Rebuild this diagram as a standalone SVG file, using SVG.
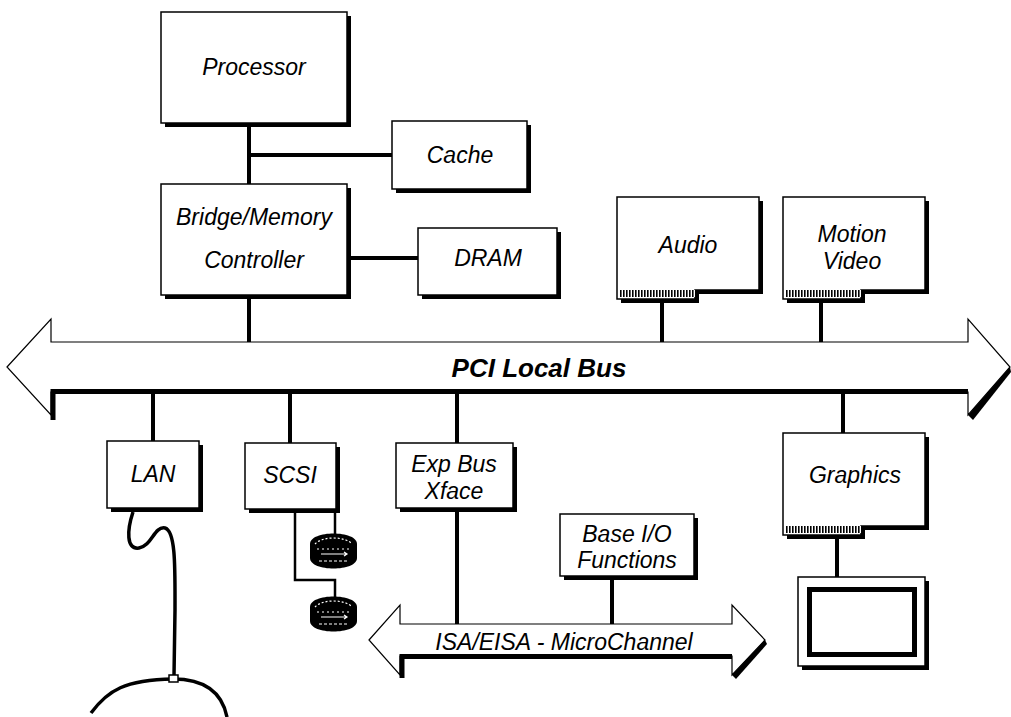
<svg xmlns="http://www.w3.org/2000/svg" width="1011" height="717" viewBox="0 0 1011 717">
<style>
.box{fill:#fff;stroke:#000;stroke-width:1.5}
.sh{fill:#000}
.lbl{font-family:"Liberation Sans",Arial,sans-serif;font-style:italic;font-size:23px;fill:#000;text-anchor:middle}
.big{font-size:26px;font-weight:bold}
.con{stroke:#000;stroke-width:4;fill:none}
.thin{stroke:#000;stroke-width:2.5;fill:none}
.bus{fill:#fff;stroke:#000;stroke-width:1.2}
</style>
<defs>
<pattern id="hatch" width="3" height="8" patternUnits="userSpaceOnUse">
<rect width="3" height="8" fill="#fff"/>
<rect width="1.6" height="8" fill="#000"/>
</pattern>
<g id="card">
<path class="sh" d="M4,4 h142 v93 h-64 v9 h-78 z"/>
<path class="box" d="M0,0 h142 v93 h-64 v9 h-78 z"/>
<rect x="2" y="93" width="76" height="7" fill="url(#hatch)"/>
</g>
<g id="disk">
<path fill="#000" d="M0,11 C0,-3 47,-3 47,11 L47,25 C47,39 0,39 0,25 Z"/>
<path d="M5,11 C12,3 35,3 42,11" stroke="#fff" stroke-width="1.2" stroke-dasharray="2,2" fill="none"/>
<path d="M7,16 H40" stroke="#fff" stroke-width="1" stroke-dasharray="2,3" fill="none"/>
<path d="M11,21 H36 M34,19 L37,21 L34,23" stroke="#fff" stroke-width="1.2" fill="none"/>
<path d="M9,28 H38" stroke="#fff" stroke-width="1" stroke-dasharray="3,2" fill="none"/>
</g>
</defs>
<rect width="1011" height="717" fill="#fff"/>

<g id="connectors">
<line class="con" x1="249" y1="123" x2="249" y2="184"/>
<line class="con" x1="249" y1="155" x2="392" y2="155"/>
<line class="con" x1="347" y1="258" x2="418" y2="258"/>
<line class="con" x1="249" y1="295" x2="249" y2="343"/>
<line class="con" x1="662" y1="300" x2="662" y2="343"/>
<line class="con" x1="821" y1="300" x2="821" y2="343"/>
<line class="con" x1="153" y1="392" x2="153" y2="441"/>
<line class="con" x1="290" y1="392" x2="290" y2="443"/>
<line class="con" x1="457" y1="392" x2="457" y2="443"/>
<line class="con" x1="457" y1="508" x2="457" y2="625"/>
<line class="con" x1="612" y1="576" x2="612" y2="625"/>
<line class="con" x1="843" y1="392" x2="843" y2="433"/>
<line class="con" x1="837" y1="536" x2="837" y2="577"/>
<line class="thin" x1="335" y1="510" x2="335" y2="534"/>
<polyline class="thin" points="295,510 295,580 335,580 335,597"/>
<path d="M133,512 C127,530 126,550 139,548 C152,546 154,526 165,528 C176,531 175,570 175,610 L174,676" stroke="#000" stroke-width="3.5" fill="none"/>
<path d="M91,713 C108,690 125,680 173,679 C205,679 222,692 227,717" stroke="#000" stroke-width="3.5" fill="none"/>
<rect x="169" y="675" width="9" height="7" fill="#fff" stroke="#000" stroke-width="1.5"/>
</g>

<g id="pci-bus">
<polygon class="bus" points="7,367 51,319 51,342 968,342 968,319 1010,367 968,415 968,392 51,392 51,415"/>
<polyline points="53,420 53,391.5 968,391.5" stroke="#000" stroke-width="5" fill="none"/>
<polygon class="sh" points="1010,367 1011,372 973,420 968,415"/>
<text class="lbl big" x="539" y="377">PCI Local Bus</text>
</g>

<g id="isa-bus">
<polygon class="bus" points="369,640 400,605 400,624 732,624 732,605 765,640 732,675 732,656 400,656 400,675"/>
<polyline points="402,678 402,656.5 732,656.5" stroke="#000" stroke-width="5" fill="none"/>
<polygon class="sh" points="765,640 767,644 736,679 732,675"/>
<text class="lbl" x="564" y="650">ISA/EISA - MicroChannel</text>
</g>

<g id="processor">
<rect class="sh" x="165" y="16" width="186" height="111"/>
<rect class="box" x="161" y="12" width="186" height="111"/>
<text class="lbl" x="254" y="75">Processor</text>
</g>

<g id="cache">
<rect class="sh" x="396" y="125" width="135" height="68"/>
<rect class="box" x="392" y="121" width="135" height="68"/>
<text class="lbl" x="460" y="163">Cache</text>
</g>

<g id="bridge">
<rect class="sh" x="165" y="188" width="186" height="111"/>
<rect class="box" x="161" y="184" width="186" height="111"/>
<text class="lbl" x="254" y="225">Bridge/Memory</text>
<text class="lbl" x="254" y="268">Controller</text>
</g>

<g id="dram">
<rect class="sh" x="422" y="232" width="139" height="67"/>
<rect class="box" x="418" y="228" width="139" height="67"/>
<text class="lbl" x="488" y="266">DRAM</text>
</g>

<g id="audio">
<use href="#card" transform="translate(617,197)"/>
<text class="lbl" x="688" y="253">Audio</text>
</g>

<g id="motion-video">
<use href="#card" transform="translate(783,197)"/>
<text class="lbl" x="852" y="242">Motion</text>
<text class="lbl" x="852" y="269">Video</text>
</g>

<g id="lan">
<rect class="sh" x="111" y="445" width="92" height="67"/>
<rect class="box" x="107" y="441" width="92" height="67"/>
<text class="lbl" x="153" y="482">LAN</text>
</g>

<g id="scsi">
<rect class="sh" x="249" y="447" width="91" height="66"/>
<rect class="box" x="245" y="443" width="91" height="66"/>
<text class="lbl" x="290" y="483">SCSI</text>
</g>

<g id="disk1"><use href="#disk" transform="translate(310,533)"/></g>
<g id="disk2"><use href="#disk" transform="translate(310,596)"/></g>

<g id="exp-bus">
<rect class="sh" x="400" y="447" width="117" height="65"/>
<rect class="box" x="396" y="443" width="117" height="65"/>
<text class="lbl" x="454" y="472">Exp Bus</text>
<text class="lbl" x="454" y="499">Xface</text>
</g>

<g id="base-io">
<rect class="sh" x="564" y="518" width="134" height="62"/>
<rect class="box" x="560" y="514" width="134" height="62"/>
<text class="lbl" x="627" y="542">Base I/O</text>
<text class="lbl" x="627" y="568">Functions</text>
</g>

<g id="graphics">
<use href="#card" transform="translate(783,433)"/>
<text class="lbl" x="855" y="483">Graphics</text>
</g>

<g id="monitor">
<rect class="sh" x="802" y="581" width="127" height="89"/>
<rect class="box" x="798" y="577" width="127" height="89"/>
<rect x="809.5" y="589.5" width="105" height="65" fill="#fff" stroke="#000" stroke-width="5"/>
</g>
</svg>
